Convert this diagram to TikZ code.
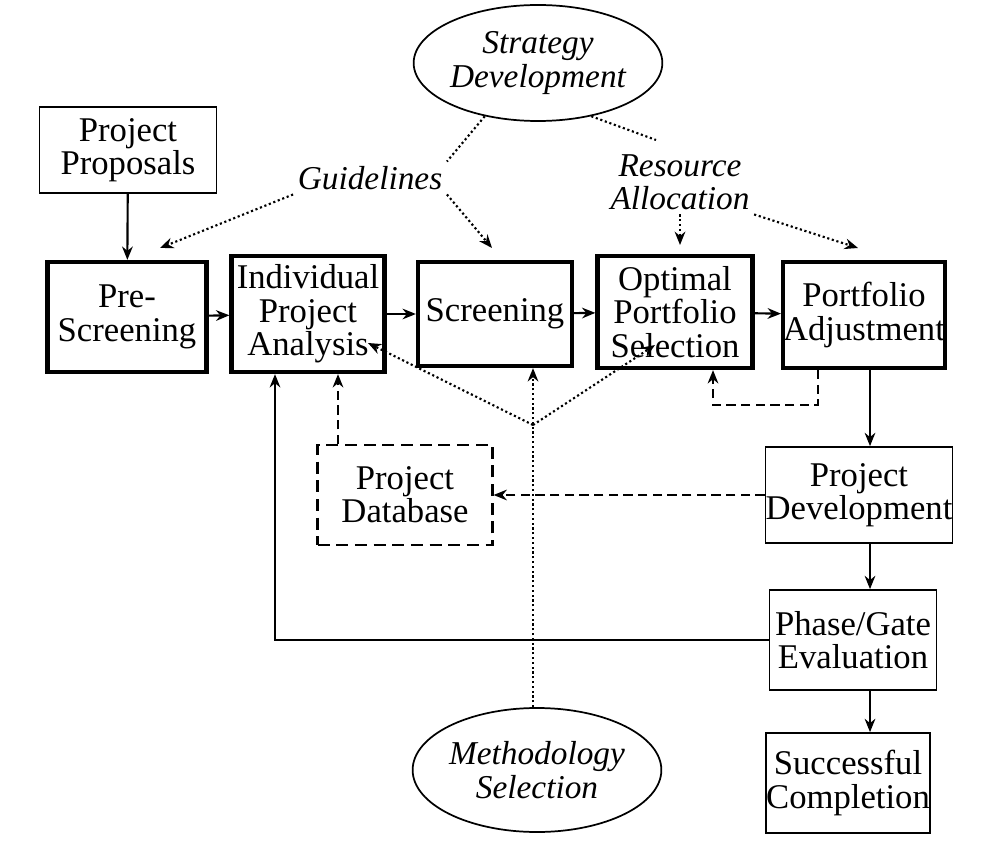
\documentclass[tikz,border=0pt]{standalone}
\usepackage{fontspec}
\setmainfont{Liberation Serif}
\usetikzlibrary{arrows.meta,shapes.geometric}
\begin{document}
\begin{tikzpicture}[x=0.75pt,y=-0.75pt,
  txt/.style={font=\fontsize{26}{25}\selectfont,align=center},
  sz/.style 2 args={minimum width=#1*0.75pt,minimum height=#2*0.75pt},
  thin box/.style={draw,line width=1.3pt,txt,inner sep=0pt},
  thick box/.style={draw,line width=3.2pt,txt,inner sep=0pt},
  dbox/.style={draw,line width=1.6pt,dash pattern=on 9pt off 5pt,txt,inner sep=0pt},
  ell/.style={draw,ellipse,line width=1.3pt,txt,font=\fontsize{25}{25}\selectfont\itshape,inner sep=0pt},
  arr/.style={line width=1.6pt,-{Stealth[length=10pt,width=8pt]}},
  darr/.style={arr,dash pattern=on 7pt off 4pt},
  dot/.style={line width=1.6pt,dotted},
  dotarr/.style={dot,-{Stealth[length=10pt,width=8pt]}}]
\useasboundingbox (0,0) rectangle (1003,859);
\node[thin box,sz={177}{86}] (pp) at (128,150) {Project\\Proposals};
\node[thick box,sz={159}{110}] (ps) at (127,317) {Pre-\\Screening};
\node[thick box,sz={153}{116}] (ia) at (308,314) {Individual\\Project\\Analysis};
\node[thick box,sz={154}{104}] (sc) at (495,314) {Screening};
\node[thick box,sz={155}{112}] (op) at (675,312) {Optimal\\Portfolio\\Selection};
\node[thick box,sz={161}{106}] (pa) at (864,315) {Portfolio\\Adjustment};
\node[dbox,sz={175}{100}] (db) at (405,495) {Project\\Database};
\node[thin box,sz={178}{96}] (pd) at (859,495) {Project\\Development};
\node[thin box,sz={167}{100}] (pg) at (853,640) {Phase/Gate\\Evaluation};
\node[thin box,sz={163}{100}] (scc) at (848,783) {Successful\\Completion};
\node[ell,sz={170}{116}] (sd) at (538,63) {Strategy\\Development};
\node[ell,sz={164}{124}] (ms) at (537,770) {Methodology\\Selection};
\node[txt,font=\fontsize{25}{25}\selectfont\itshape] (gl) at (370,178) {Guidelines};
\node[txt,font=\fontsize{25}{25}\selectfont\itshape] (ra) at (680,182) {Resource\\Allocation};
\coordinate (mid) at (533,425);
% solid
\draw[arr] (pp) -- (ps);
\draw[arr] (ps) -- (ia);
\draw[arr] (ia) -- (sc);
\draw[arr] (sc) -- (op);
\draw[arr] (op) -- (pa);
\draw[arr] (pa.south -| 870,0) -- (pd.north -| 870,0);
\draw[arr] (pd.south -| 870,0) -- (pg.north -| 870,0);
\draw[arr] (pg.south -| 870,0) -- (scc.north -| 870,0);
\draw[arr] (pg.west) -- (pg.west -| 275,0) -- (ia.south -| 275,0);
% dashed
\draw[darr] (pa.south -| 818,0) -- (818,405) -- (713,405) -- (op.south -| 713,0);
\draw[darr] (pd.west) -- (db.east);
\draw[darr] (db.north -| 338,0) -- (ia.south -| 338,0);
% dotted
\draw[dot] (sd.225) -- (gl.north east);
\draw[dotarr] (gl.south west) -- (160,248);
\draw[dotarr] (gl.south east) -- (492,248);
\draw[dot] (sd.-45) -- (656,140);
\draw[dotarr] (ra.south) -- (680,245);
\draw[dotarr] (ra.south east) -- (858,248);
\draw[dotarr] (ms.north -| mid) -- (sc.south -| mid);
\draw[dotarr] (mid) -- (368,343);
\draw[dotarr] (mid) -- (655,345);
\end{tikzpicture}
\end{document}
